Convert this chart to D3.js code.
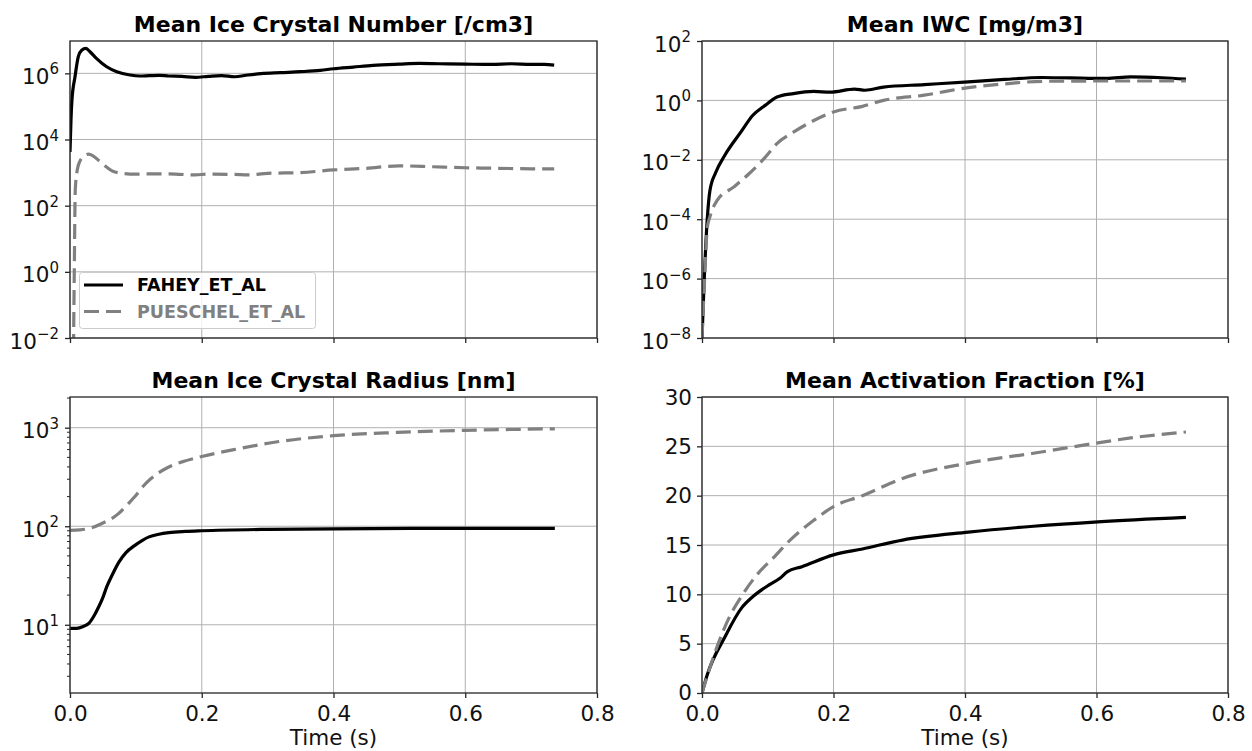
<!DOCTYPE html>
<html><head><meta charset="utf-8">
<script src="https://cdn.jsdelivr.net/npm/d3@7"></script>
<style>body{margin:0;background:#fff;} text{font-family:"DejaVu Sans",sans-serif;}</style>
</head><body><svg id="c" width="1252" height="751"></svg>
<script>
// ---------------- data ----------------
const seriesNames = ["FAHEY_ET_AL", "PUESCHEL_ET_AL"];
const titles = ["Mean Ice Crystal Number [/cm3]", "Mean IWC [mg/m3]", "Mean Ice Crystal Radius [nm]", "Mean Activation Fraction [%]"];
const xTicks = [0, 0.2, 0.4, 0.6, 0.8];
const xLabel = "Time (s)";

// Panel 1: ice crystal number
const numTicks = [1e-2, 1e0, 1e2, 1e4, 1e6];
const numFaheyT = [0, 0.0015, 0.003, 0.0076, 0.0126, 0.0177, 0.0243, 0.0304, 0.0405, 0.0557, 0.071, 0.091, 0.106, 0.12, 0.135, 0.15, 0.17, 0.19, 0.21, 0.23, 0.25, 0.27, 0.29, 0.32, 0.35, 0.38, 0.40, 0.43, 0.46, 0.50, 0.53, 0.56, 0.60, 0.64, 0.67, 0.70, 0.72, 0.735];
const numFaheyV = [4.2e3, 4.0e4, 1.6e5, 7.9e5, 3.2e6, 5.0e6, 5.7e6, 4.5e6, 2.8e6, 1.58e6, 1.12e6, 8.9e5, 8.3e5, 8.5e5, 8.7e5, 8.3e5, 8.1e5, 7.6e5, 8.1e5, 8.5e5, 7.9e5, 8.9e5, 9.8e5, 1.05e6, 1.12e6, 1.23e6, 1.38e6, 1.55e6, 1.74e6, 1.9e6, 2.0e6, 1.95e6, 1.9e6, 1.86e6, 1.95e6, 1.86e6, 1.86e6, 1.78e6];
const numPueschelT = [0.005, 0.0065, 0.008, 0.011, 0.015, 0.02, 0.028, 0.035, 0.045, 0.055, 0.065, 0.08, 0.1, 0.13, 0.16, 0.19, 0.21, 0.25, 0.27, 0.30, 0.35, 0.40, 0.45, 0.50, 0.55, 0.60, 0.65, 0.70, 0.735];
const numPueschelV = [1e-3, 1e0, 3e2, 1.2e3, 2.2e3, 3.0e3, 3.6e3, 3.2e3, 2.2e3, 1.5e3, 1.1e3, 9.5e2, 9.0e2, 9.2e2, 9.0e2, 8.5e2, 9.0e2, 8.8e2, 8.5e2, 9.5e2, 1.0e3, 1.2e3, 1.35e3, 1.6e3, 1.5e3, 1.4e3, 1.35e3, 1.3e3, 1.3e3];

// Panel 2: IWC
const iwcTicks = [1e-8, 1e-6, 1e-4, 1e-2, 1e0, 1e2];
const iwcFaheyT = [0, 0.0035, 0.008, 0.012, 0.021, 0.0345, 0.059, 0.077, 0.096, 0.114, 0.139, 0.17, 0.195, 0.232, 0.248, 0.276, 0.338, 0.405, 0.46, 0.516, 0.56, 0.615, 0.652, 0.70, 0.736];
const iwcFaheyV = [1e-8, 1.1e-6, 1e-4, 9e-4, 3.8e-3, 1.4e-2, 8.5e-2, 0.31, 0.68, 1.3, 1.7, 2.0, 1.9, 2.4, 2.2, 2.8, 3.4, 4.2, 5.1, 5.9, 5.7, 5.5, 6.2, 5.8, 5.2];
const iwcPueschelT = [0, 0.004, 0.008, 0.012, 0.023, 0.048, 0.0715, 0.096, 0.114, 0.139, 0.17, 0.2, 0.244, 0.276, 0.338, 0.405, 0.46, 0.52, 0.615, 0.736];
const iwcPueschelV = [1e-8, 1e-6, 5e-5, 1.2e-4, 4.3e-4, 1.2e-3, 3.4e-3, 1.2e-2, 3.5e-2, 8.5e-2, 0.21, 0.41, 0.63, 1.0, 1.5, 2.7, 3.6, 4.4, 4.5, 4.5];

// Panel 3: radius
const radTicks = [1e1, 1e2, 1e3];
const radFaheyT = [0, 0.01, 0.02, 0.029, 0.037, 0.044, 0.05, 0.056, 0.065, 0.074, 0.085, 0.0985, 0.11, 0.12, 0.135, 0.15, 0.175, 0.2, 0.3, 0.4, 0.55, 0.736];
const radFaheyV = [9.2, 9.2, 9.6, 10.4, 12.5, 15.4, 19, 24.5, 33, 43, 54, 64, 72, 78, 83, 86, 88.5, 90, 93, 94, 95, 95];
const radPueschelT = [0, 0.015, 0.032, 0.05, 0.062, 0.074, 0.086, 0.0985, 0.11, 0.123, 0.135, 0.147, 0.17, 0.2, 0.255, 0.315, 0.4, 0.496, 0.6, 0.736];
const radPueschelV = [91, 92, 96, 108, 118, 135, 163, 200, 250, 305, 350, 390, 450, 510, 610, 720, 830, 895, 940, 975];

// Panel 4: activation fraction
const actTicks = [0, 5, 10, 15, 20, 25, 30];
const actFaheyT = [0, 0.008, 0.035, 0.06, 0.078, 0.102, 0.118, 0.13, 0.152, 0.2, 0.244, 0.305, 0.405, 0.504, 0.602, 0.736];
const actFaheyV = [0, 1.85, 5.7, 8.6, 9.8, 10.95, 11.6, 12.3, 12.8, 14.0, 14.6, 15.5, 16.3, 16.9, 17.35, 17.8];
const actPueschelT = [0, 0.023, 0.042, 0.06, 0.085, 0.11, 0.134, 0.17, 0.2, 0.244, 0.305, 0.405, 0.504, 0.602, 0.652, 0.736];
const actPueschelV = [0, 4.7, 7.75, 9.8, 12.1, 13.8, 15.5, 17.5, 18.9, 20.0, 21.75, 23.3, 24.3, 25.35, 25.85, 26.45];

// ---------------- drawing ----------------
const svg = d3.select("#c");
const FONT = 21.5;
const styles = [
  {color: "#000000", dash: null},
  {color: "#808080", dash: "15,7"}
];
const zip = (t, v) => t.map((d, i) => ({t: d, v: v[i]}));

const panels = [
  {box: [70, 597, 41, 338], log: true, domain: [1e-2, 9.5e6], ticks: numTicks, minor: false, xlabels: false,
   series: [zip(numFaheyT, numFaheyV), zip(numPueschelT, numPueschelV)], legend: true},
  {box: [702, 1228, 41, 338], log: true, domain: [1e-8, 1e2], ticks: iwcTicks, minor: false, xlabels: false,
   series: [zip(iwcFaheyT, iwcFaheyV), zip(iwcPueschelT, iwcPueschelV)]},
  {box: [70, 597, 397, 693], log: true, domain: [2.03, 2050], ticks: radTicks, minor: true, xlabels: true,
   series: [zip(radFaheyT, radFaheyV), zip(radPueschelT, radPueschelV)]},
  {box: [702, 1228, 397, 693], log: false, domain: [0, 30], ticks: actTicks, minor: false, xlabels: true,
   series: [zip(actFaheyT, actFaheyV), zip(actPueschelT, actPueschelV)]}
];

panels.forEach((p, pi) => {
  const [x0, x1, y0, y1] = p.box;
  const x = d3.scaleLinear().domain([0, 0.8]).range([x0, x1]);
  const y = (p.log ? d3.scaleLog() : d3.scaleLinear()).domain(p.domain).range([y1, y0]);
  const g = svg.append("g");

  // grid
  g.selectAll(".gx").data(xTicks).join("line")
    .attr("x1", d => x(d)).attr("x2", d => x(d)).attr("y1", y0).attr("y2", y1)
    .attr("stroke", "#b0b0b0").attr("stroke-width", 1);
  g.selectAll(".gy").data(p.ticks).join("line")
    .attr("x1", x0).attr("x2", x1).attr("y1", d => y(d)).attr("y2", d => y(d))
    .attr("stroke", "#b0b0b0").attr("stroke-width", 1);

  // lines
  const clipId = "clip" + pi;
  svg.append("clipPath").attr("id", clipId).append("rect")
    .attr("x", x0).attr("y", y0).attr("width", x1 - x0).attr("height", y1 - y0);
  const line = d3.line().x(d => x(d.t)).y(d => y(d.v)).curve(d3.curveMonotoneX);
  p.series.forEach((s, si) => {
    g.append("path").datum(s).attr("clip-path", `url(#${clipId})`)
      .attr("d", line).attr("fill", "none")
      .attr("stroke", styles[si].color).attr("stroke-width", 3.2)
      .attr("stroke-dasharray", styles[si].dash)
      .attr("stroke-linejoin", "round");
  });

  // axes frame
  g.append("rect").attr("x", x0).attr("y", y0).attr("width", x1 - x0).attr("height", y1 - y0)
    .attr("fill", "none").attr("stroke", "#262626").attr("stroke-width", 1.3);

  // x ticks
  const xAxis = d3.axisBottom(x).tickValues(xTicks).tickSize(5).tickPadding(8)
    .tickFormat(p.xlabels ? d3.format(".1f") : () => "");
  const xg = g.append("g").attr("transform", `translate(0,${y1})`).call(xAxis);
  xg.select(".domain").remove();
  xg.selectAll(".tick line").attr("stroke", "#262626").attr("stroke-width", 1.3);
  xg.selectAll(".tick text").attr("font-size", FONT).attr("fill", "#111")
    .attr("font-family", "DejaVu Sans").attr("dy", null).attr("y", 28);

  // y ticks
  const yAxis = d3.axisLeft(y).tickValues(p.ticks).tickSize(5).tickFormat(() => "");
  const yg = g.append("g").attr("transform", `translate(${x0},0)`).call(yAxis);
  yg.select(".domain").remove();
  yg.selectAll(".tick line").attr("stroke", "#262626").attr("stroke-width", 1.3);
  yg.selectAll(".tick text").remove();
  p.ticks.forEach(t => {
    const ty = y(t);
    if (p.log) {
      const e = Math.round(Math.log10(t));
      const txt = g.append("text").attr("x", x0 - 11).attr("y", ty + 10.5)
        .attr("text-anchor", "end").attr("font-size", FONT).attr("fill", "#111");
      txt.append("tspan").text("10");
      txt.append("tspan").attr("dy", -9.5).attr("font-size", 15).text(e < 0 ? "\u2212" + Math.abs(e) : String(e));
    } else {
      g.append("text").attr("x", x0 - 10).attr("y", ty - (t === 0 ? 1 : 0)).attr("dy", "0.36em")
        .attr("text-anchor", "end").attr("font-size", FONT).attr("fill", "#111").text(String(t));
    }
  });
  if (p.minor) {
    const minors = [];
    const lo = Math.floor(Math.log10(p.domain[0])), hi = Math.ceil(Math.log10(p.domain[1]));
    for (let e = lo; e <= hi; e++) for (let m = 2; m <= 9; m++) {
      const v = m * Math.pow(10, e);
      if (v >= p.domain[0] && v <= p.domain[1]) minors.push(v);
    }
    g.selectAll(".mn").data(minors).join("line")
      .attr("x1", x0 - 3).attr("x2", x0).attr("y1", d => y(d)).attr("y2", d => y(d))
      .attr("stroke", "#262626").attr("stroke-width", 1);
  }

  // title
  g.append("text").attr("x", (x0 + x1) / 2).attr("y", y0 - 9).attr("text-anchor", "middle")
    .attr("font-size", 22).attr("font-weight", "bold").attr("fill", "#000").text(titles[pi]);

  if (p.xlabels) {
    g.append("text").attr("x", (x0 + x1) / 2).attr("y", 745).attr("text-anchor", "middle")
      .attr("font-size", FONT).attr("fill", "#111").text(xLabel);
  }

  if (p.legend) {
    const lg = g.append("g");
    lg.append("rect").attr("x", 79.5).attr("y", 272.5).attr("width", 236).attr("height", 56).attr("rx", 3)
      .attr("fill", "#fff").attr("fill-opacity", 0.8).attr("stroke", "#cccccc").attr("stroke-width", 1);
    seriesNames.forEach((n, i) => {
      const ly = 285 + i * 26.5;
      lg.append("line").attr("x1", 84).attr("x2", 123).attr("y1", ly).attr("y2", ly)
        .attr("stroke", styles[i].color).attr("stroke-width", 3.2).attr("stroke-dasharray", styles[i].dash);
      lg.append("text").attr("x", 137).attr("y", ly).attr("dy", "0.36em")
        .attr("font-size", 17.5).attr("font-weight", "bold").attr("fill", styles[i].color).text(n);
    });
  }
});
</script></body></html>
